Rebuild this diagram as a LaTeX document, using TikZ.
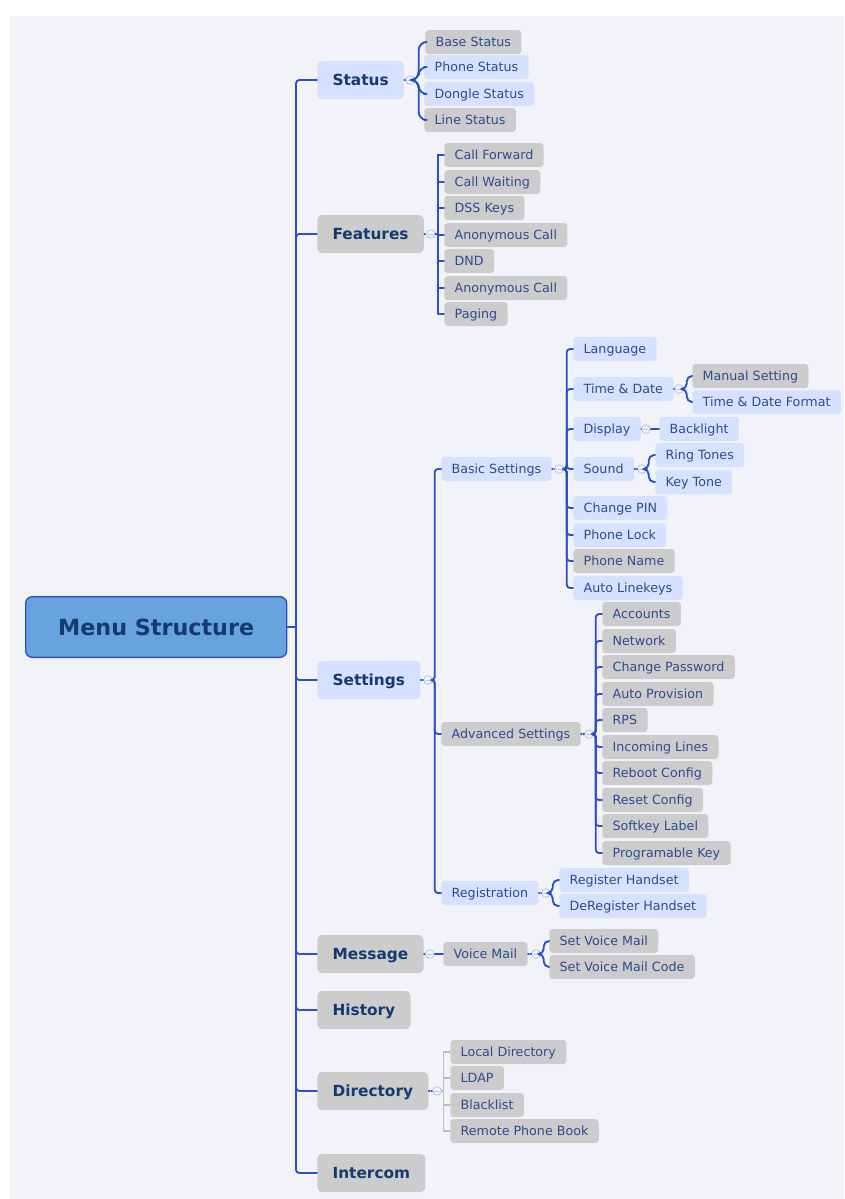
\documentclass[tikz,border=0pt]{standalone}
\usepackage{fontspec}
\setmainfont{DejaVu Sans}
\definecolor{navy}{HTML}{153A72}
\definecolor{label}{HTML}{2E4B8E}
\definecolor{wire}{HTML}{2B50C6}
\definecolor{pale}{HTML}{D5E1FE}
\definecolor{stone}{HTML}{CCCCCC}
\definecolor{sky}{HTML}{67A3DE}
\definecolor{paper}{HTML}{F2F3F9}
\definecolor{fog}{HTML}{BBBBBB}
\definecolor{ring}{HTML}{B3C3EC}

\begin{document}
\begin{tikzpicture}[x=.75pt,y=-.75pt,line cap=round,line join=round,
  item/.style={anchor=west,rounded corners=2.5pt,inner xsep=7.8pt,inner ysep=0pt,
    minimum height=18pt,text height=8pt,text depth=1pt,
    font=\fontsize{9.5}{11}\selectfont,text=label},
  blu/.style={item,fill=pale},
  gry/.style={item,fill=stone},
  topic/.style={anchor=west,rounded corners=3.5pt,inner xsep=11.5pt,inner ysep=0pt,
    minimum height=28.5pt,text height=9.6pt,text depth=1pt,
    font=\fontsize{11.5}{13}\selectfont\bfseries,text=navy},
  tblu/.style={topic,fill=pale},
  tgry/.style={topic,fill=stone},
  fold/.style={circle,draw=ring,fill=paper,line width=.6pt,inner sep=0pt,minimum size=6.5pt,
    path picture={\draw[ring,line width=.5pt]
      ([xshift=-1.8pt]path picture bounding box.center)--([xshift=1.8pt]path picture bounding box.center);}},
  branch/.style={wire,line width=1.4pt,rounded corners=2.5pt},
  stub/.style={wire,line width=.8pt,densely dotted}]

  \useasboundingbox (0,0) rectangle (844,1199);
  \fill[paper] (10,16) rectangle (844,1199);

  % root and main topics
  \node[draw=wire,line width=1pt,fill=sky,rounded corners=5pt,anchor=west,inner sep=0pt,
    minimum width=195.75pt,minimum height=45.5pt,
    font=\fontsize{16.7}{20}\selectfont\bfseries,text=navy] (root) at (25,627) {Menu Structure};

  \node[tblu] (status) at (317,80) {Status};
  \node[tgry] (feat) at (317,234) {Features};
  \node[tblu] (sett) at (317,680) {Settings};
  \node[tgry] (msg) at (317,954) {Message};
  \node[tgry] (hist) at (317,1010) {History};
  \node[tgry] (dir) at (317,1091) {Directory};
  \node[tgry] (icom) at (317,1173) {Intercom};

  \draw[branch] (root.east) -- (296,627);
  \foreach \n in {status,feat,sett,msg,hist,dir,icom}
    \draw[branch] (296,627) |- (\n.west);

  % status
  \node[gry] (bst) at (425,42) {Base Status};
  \node[blu] (pst) at (424,67) {Phone Status};
  \node[blu] (dst) at (424,94) {Dongle Status};
  \node[gry] (lst) at (424,120) {Line Status};
  \node[fold] (fstatus) at (410,80) {};
  \draw[stub] (status.east) -- (fstatus.west);
  \foreach \c in {bst,pst,dst,lst}
    \draw[branch,rounded corners=6pt] (fstatus.east) -- ++(4,0) |- (\c.west);

  % features
  \node[gry] (fwd) at (444,155) {Call Forward};
  \node[gry] (wait) at (444,182) {Call Waiting};
  \node[gry] (dss) at (444,208) {DSS Keys};
  \node[gry] (anon) at (444,235) {Anonymous Call};
  \node[gry] (dnd) at (444,261) {DND};
  \node[gry] (anonb) at (444,288) {Anonymous Call};
  \node[gry] (page) at (444,314) {Paging};
  \node[fold] (ffeat) at (431,234) {};
  \draw[stub] (feat.east) -- (ffeat.west);
  \foreach \c in {fwd,wait,dss,anon,dnd,anonb,page}
    \draw[branch,rounded corners=0pt] (ffeat.east) -- ++(2,0) |- (\c.west);

  % settings
  \node[blu] (basic) at (441,469) {Basic Settings};
  \node[gry] (adv) at (441,734) {Advanced Settings};
  \node[blu] (reg) at (441,893) {Registration};
  \node[fold] (fsett) at (428,680) {};
  \draw[stub] (sett.east) -- (fsett.west);
  \foreach \c in {basic,adv,reg}
    \draw[branch] (fsett.east) -- ++(2,0) |- (\c.west);

  % basic settings
  \node[blu] (lang) at (573,349) {Language};
  \node[blu] (tdate) at (573,389) {Time \& Date};
  \node[blu] (disp) at (573,429) {Display};
  \node[blu] (sound) at (573,469) {Sound};
  \node[blu] (pin) at (573,508) {Change PIN};
  \node[blu] (lock) at (573,535) {Phone Lock};
  \node[gry] (pname) at (573,561) {Phone Name};
  \node[blu] (alk) at (573,588) {Auto Linekeys};
  \node[fold] (fbasic) at (559,469) {};
  \draw[stub] (basic.east) -- (fbasic.west);
  \foreach \c in {lang,tdate,disp,sound,pin,lock,pname,alk}
    \draw[branch] (fbasic.east) -- ++(3,0) |- (\c.west);

  \node[gry] (manual) at (692,376) {Manual Setting};
  \node[blu] (tdfmt) at (692,402) {Time \& Date Format};
  \node[fold] (ftdate) at (679,389) {};
  \draw[stub] (tdate.east) -- (ftdate.west);
  \foreach \c in {manual,tdfmt}
    \draw[branch,rounded corners=4pt] (ftdate.east) -- ++(3,0) |- (\c.west);

  \node[blu] (back) at (659,429) {Backlight};
  \node[fold] (fdisp) at (646,429) {};
  \draw[stub] (disp.east) -- (fdisp.west);
  \draw[branch] (fdisp.east) -- (back.west);

  \node[blu] (ring) at (655,455) {Ring Tones};
  \node[blu] (ktone) at (655,482) {Key Tone};
  \node[fold] (fsound) at (642,469) {};
  \draw[stub] (sound.east) -- (fsound.west);
  \foreach \c in {ring,ktone}
    \draw[branch,rounded corners=4pt] (fsound.east) -- ++(2,0) |- (\c.west);

  % advanced settings
  \node[gry] (acc) at (602,614) {Accounts};
  \node[gry] (net) at (602,641) {Network};
  \node[gry] (cpw) at (602,667) {Change Password};
  \node[gry] (prov) at (602,694) {Auto Provision};
  \node[gry] (rps) at (602,720) {RPS};
  \node[gry] (inc) at (602,747) {Incoming Lines};
  \node[gry] (reb) at (602,773) {Reboot Config};
  \node[gry] (rst) at (602,800) {Reset Config};
  \node[gry] (soft) at (602,826) {Softkey Label};
  \node[gry] (prog) at (602,853) {Programable Key};
  \node[fold] (fadv) at (589,734) {};
  \draw[stub] (adv.east) -- (fadv.west);
  \foreach \c in {acc,net,cpw,prov,rps,inc,reb,rst,soft,prog}
    \draw[branch] (fadv.east) -- ++(2,0) |- (\c.west);

  % registration
  \node[blu] (rh) at (559,880) {Register Handset};
  \node[blu] (drh) at (559,906) {DeRegister Handset};
  \node[fold] (freg) at (546,893) {};
  \draw[stub] (reg.east) -- (freg.west);
  \foreach \c in {rh,drh}
    \draw[branch,rounded corners=4pt] (freg.east) -- ++(2,0) |- (\c.west);

  % message
  \node[gry] (vm) at (443,954) {Voice Mail};
  \node[fold] (fmsg) at (430,954) {};
  \draw[stub] (msg.east) -- (fmsg.west);
  \draw[branch] (fmsg.east) -- (vm.west);

  \node[gry] (svm) at (549,941) {Set Voice Mail};
  \node[gry] (svmc) at (549,967) {Set Voice Mail Code};
  \node[fold] (fvm) at (536,954) {};
  \draw[stub] (vm.east) -- (fvm.west);
  \foreach \c in {svm,svmc}
    \draw[branch,rounded corners=4pt] (fvm.east) -- ++(3,0) |- (\c.west);

  % directory
  \node[gry] (ldir) at (450,1052) {Local Directory};
  \node[gry] (ldap) at (450,1078) {LDAP};
  \node[gry] (black) at (450,1105) {Blacklist};
  \node[gry] (rpb) at (450,1131) {Remote Phone Book};
  \node[fold] (fdir) at (437,1091) {};
  \draw[stub] (dir.east) -- (fdir.west);
  \foreach \c in {ldir,ldap,black,rpb}
    \draw[fog,line width=.8pt] (fdir.east) -- ++(2,0) |- (\c.west);
\end{tikzpicture}
\end{document}
